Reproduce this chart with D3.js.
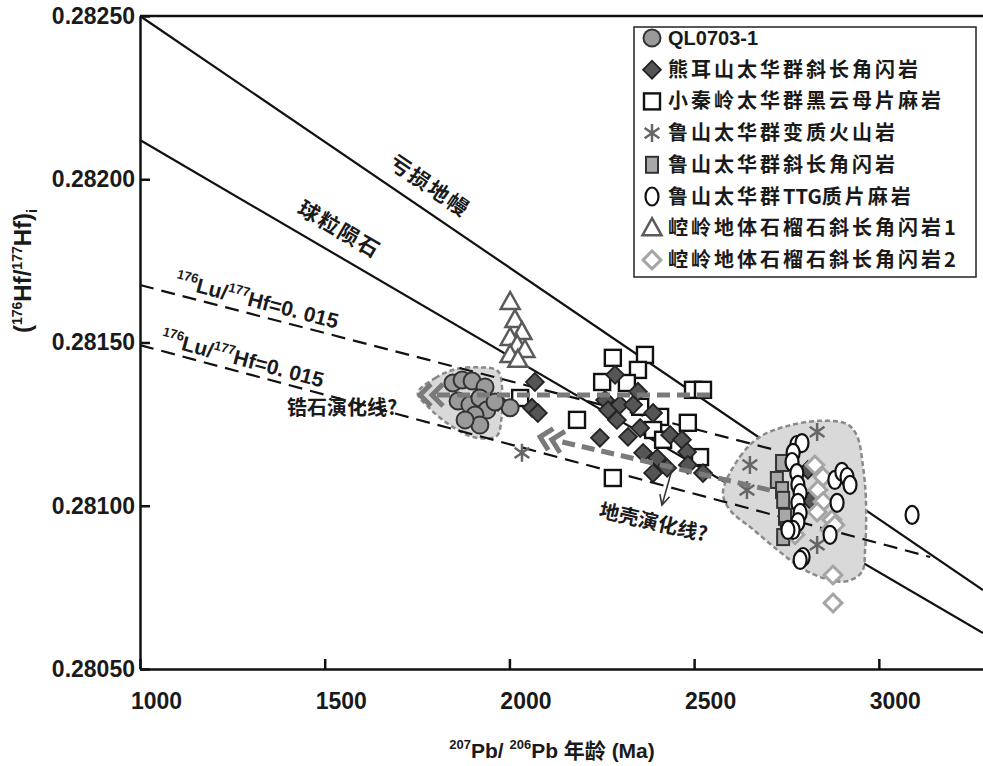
<!DOCTYPE html>
<html>
<head>
<meta charset="utf-8">
<script src="https://cdn.jsdelivr.net/npm/d3@7"></script>
<style>
body { margin: 0; background: #fff; }
text { font-family: "Liberation Sans", Arial, "Noto Sans CJK SC", sans-serif; font-weight: bold; fill: #1a1a1a; }
.cjk { font-family: "Noto Sans CJK SC", sans-serif; }
</style>
</head>
<body>
<svg id="chart" width="983" height="766"></svg>
<script>
// ---- data: [age (Ma), (176Hf/177Hf)i] ----
var qlPoints = [[1847,0.281376],[1872,0.281385],[1899,0.281382],[1934,0.281364],[1861,0.281321],
    [1893,0.281309],[1920,0.281330],[1939,0.281293],[1907,0.281278],[1920,0.281247],[1880,0.281263],
    [2002,0.281300],[1961,0.281318]];
var xiongPoints = [[2069,0.281379],[2061,0.281300],[2077,0.281284],[1969,0.281318],[2245,0.281208],
    [2286,0.281401],[2259,0.281324],[2267,0.281293],[2299,0.281309],[2335,0.281309],[2348,0.281349],
    [2291,0.281263],[2321,0.281211],[2354,0.281238],[2389,0.281284],[2362,0.281162],[2400,0.281146],
    [2389,0.281100],[2427,0.281116],[2435,0.281217],[2467,0.281202],[2481,0.281165],[2483,0.281125],
    [2524,0.281100],[2808,0.281110],[2814,0.281018]];
var xiaoPoints = [[2280,0.281453],[2367,0.281462],[2251,0.281379],[2348,0.281416],[2318,0.281376],
    [2183,0.281263],[2029,0.281330],[2280,0.281085],[2497,0.281355],[2524,0.281355],[2354,0.281303],
    [2408,0.281272],[2389,0.281232],[2416,0.281202],[2483,0.281254],[2516,0.281149]];
var luVolcPoints = [[2034,0.281162],[2651,0.281125],[2643,0.281048],[2833,0.281226],[2833,0.280880]];
var luAmphPoints = [[2724,0.281079],[2738,0.281131],[2738,0.281048],[2741,0.281018],[2746,0.280966],
    [2751,0.280926],[2741,0.280904]];
var luTtgPoints = [[2778,0.281186],[2792,0.281192],[2768,0.281162],[2765,0.281134],[2778,0.281100],
    [2781,0.281064],[2787,0.281039],[2781,0.281009],[2787,0.280978],[2781,0.280950],[2768,0.280926],
    [2754,0.280926],[2881,0.281079],[2900,0.281104],[2914,0.281088],[2922,0.281064],[2887,0.281009],
    [2868,0.280911],[2795,0.280843],[2787,0.280834],[3090,0.280972]];
var kong1Points = [[2002,0.281624],[2015,0.281569],[2034,0.281532],[2002,0.281514],[2021,0.281492],
    [2042,0.281477],[2002,0.281462],[2023,0.281447]];
var kong2Points = [[2827,0.281125],[2849,0.281088],[2835,0.281048],[2849,0.281012],[2833,0.280981],
    [2873,0.280957],[2868,0.280926],[2773,0.280911],[2876,0.280788],[2876,0.280702],[2881,0.280941]];

var legendLabels = ["QL0703-1", "熊耳山太华群斜长角闪岩", "小秦岭太华群黑云母片麻岩", "鲁山太华群变质火山岩",
    "鲁山太华群斜长角闪岩", "鲁山太华群TTG质片麻岩", "崆岭地体石榴石斜长角闪岩1", "崆岭地体石榴石斜长角闪岩2"];
var xTicks = [1000, 1500, 2000, 2500, 3000];
var yTicks = [0.28050, 0.28100, 0.28150, 0.28200, 0.28250];

// reference lines
var dmLine = [[1000,0.28250],[3282,0.280742]];
var churLine = [[1000,0.282120],[3282,0.280610]];
var crustUpper = [[1000,0.281676],[2719,0.281171]];
var crustLower = [[1000,0.281492],[3139,0.280843]];

// shaded fields
var leftField = [[1752,0.281345],[1799,0.281391],[1853,0.281418],[1920,0.281424],[1969,0.281412],
    [1981,0.281339],[1978,0.281263],[1966,0.281214],[1907,0.281209],[1839,0.281247],[1780,0.281303]];
var rightField = [[2578,0.281040],[2624,0.281150],[2678,0.281211],[2751,0.281244],[2841,0.281260],
    [2914,0.281250],[2941,0.281214],[2957,0.281122],[2965,0.281021],[2963,0.280868],[2954,0.280797],
    [2914,0.280769],[2860,0.280775],[2795,0.280806],[2733,0.280858],[2659,0.280928],[2597,0.280987]];

// evolution arrows (tail -> tip)
var zirconArrow = [[2543,0.281339],[1758,0.281339]];
var crustArrow = [[2705,0.281048],[2083,0.281211]];
var pointerArrow = [[2440,0.281110],[2413,0.281002]];

var svg = d3.select("#chart");
var x = d3.scaleLinear().domain([1000, 3282]).range([140, 983]);
var y = d3.scaleLinear().domain([0.28050, 0.28250]).range([669, 16]);
var line = d3.line().x(function (d) { return x(d[0]); }).y(function (d) { return y(d[1]); });

// solid model lines (under the fields)
[dmLine, churLine].forEach(function (seg) {
    svg.append("path").attr("d", line(seg))
        .attr("fill", "none").attr("stroke", "#111").attr("stroke-width", 2.2);
});

// shaded fields
var field = d3.line().x(function (d) { return x(d[0]); }).y(function (d) { return y(d[1]); })
    .curve(d3.curveCatmullRomClosed);
[leftField, rightField].forEach(function (f) {
    svg.append("path").attr("d", field(f))
        .attr("fill", "#d9d9d9").attr("stroke", "#8a8a8a")
        .attr("stroke-width", 2.5).attr("stroke-dasharray", "5,3");
});

// Lu/Hf = 0.015 crustal lines
[crustUpper, crustLower].forEach(function (seg) {
    svg.append("path").attr("d", line(seg))
        .attr("fill", "none").attr("stroke", "#111").attr("stroke-width", 2.2)
        .attr("stroke-dasharray", "14,8");
});

// axes
var xAxis = d3.axisBottom(x).tickValues(xTicks).tickSizeInner(-10).tickSizeOuter(0).tickPadding(24)
    .tickFormat(d3.format("d"));
var gx = svg.append("g").attr("transform", "translate(0,669)").call(xAxis);
gx.selectAll("text").attr("dx", 16).style("font-size", "23px").attr("fill", "#1a1a1a");

var yAxis = d3.axisLeft(y).tickValues(yTicks).tickSizeInner(-10).tickSizeOuter(0).tickPadding(5)
    .tickFormat(d3.format(".5f"));
var gy = svg.append("g").attr("transform", "translate(140,0)").call(yAxis);
gy.selectAll("text").style("font-size", "23px").attr("fill", "#1a1a1a");

[gx, gy].forEach(function (g) {
    g.select(".domain").attr("stroke", "#111").attr("stroke-width", 2.5);
    g.selectAll(".tick line").attr("stroke", "#111").attr("stroke-width", 2.5);
});
svg.append("line").attr("x1", 140).attr("x2", 983).attr("y1", y(0.28250)).attr("y2", y(0.28250))
    .attr("stroke", "#111").attr("stroke-width", 2.5);

// symbols
function asteriskPath(r) {
    var a = r * 0.82, b = r * 0.57;
    return "M0," + (-r) + "L0," + r + "M" + (-a) + "," + (-b) + "L" + a + "," + b +
        "M" + (-a) + "," + b + "L" + a + "," + (-b);
}
function drawSymbol(g, type) {
    switch (type) {
        case "circle":
            g.append("circle").attr("r", 8.5).attr("fill", "#9a9a9a").attr("stroke", "#333").attr("stroke-width", 2);
            break;
        case "diamond":
            g.append("rect").attr("x", -6.3).attr("y", -6.3).attr("width", 12.6).attr("height", 12.6)
                .attr("transform", "rotate(45)").attr("fill", "#555").attr("stroke", "#222").attr("stroke-width", 1.8);
            break;
        case "square":
            g.append("rect").attr("x", -8).attr("y", -8).attr("width", 16).attr("height", 16)
                .attr("fill", "#fff").attr("stroke", "#111").attr("stroke-width", 2.4);
            break;
        case "asterisk":
            g.append("path").attr("d", asteriskPath(9)).attr("fill", "none")
                .attr("stroke", "#666").attr("stroke-width", 2.5);
            break;
        case "grayrect":
            g.append("rect").attr("x", -6).attr("y", -8).attr("width", 12).attr("height", 16)
                .attr("fill", "#a8a8a8").attr("stroke", "#333").attr("stroke-width", 2);
            break;
        case "ellipse":
            g.append("ellipse").attr("rx", 6.5).attr("ry", 9).attr("fill", "#fff")
                .attr("stroke", "#111").attr("stroke-width", 2.2);
            break;
        case "triangle":
            g.append("path").attr("d", "M0,-10L9.5,7L-9.5,7Z").attr("fill", "#fff")
                .attr("stroke", "#5a5a5a").attr("stroke-width", 2.5);
            break;
        case "diamond2":
            g.append("rect").attr("x", -6.3).attr("y", -6.3).attr("width", 12.6).attr("height", 12.6)
                .attr("transform", "rotate(45)").attr("fill", "#fff").attr("stroke", "#a5a5a5").attr("stroke-width", 3);
            break;
    }
}

var series = [
    { data: xiaoPoints, type: "square" },
    { data: xiongPoints, type: "diamond" },
    { data: qlPoints, type: "circle" },
    { data: kong1Points, type: "triangle" },
    { data: luVolcPoints, type: "asterisk" },
    { data: luAmphPoints, type: "grayrect" },
    { data: kong2Points, type: "diamond2" },
    { data: luTtgPoints, type: "ellipse" }
];
series.forEach(function (s) {
    svg.append("g").selectAll("g")
        .data(s.data)
        .enter()
        .append("g")
        .attr("transform", function (d) { return "translate(" + x(d[0]) + "," + y(d[1]) + ")"; })
        .each(function () { drawSymbol(d3.select(this), s.type); });
});

// thick dashed evolution arrows with double chevrons
function evoArrow(seg) {
    var t = [x(seg[0][0]), y(seg[0][1])], h = [x(seg[1][0]), y(seg[1][1])];
    var dx = h[0] - t[0], dy = h[1] - t[1], len = Math.sqrt(dx * dx + dy * dy);
    var u = [dx / len, dy / len], n = [-u[1], u[0]];
    svg.append("line").attr("x1", t[0]).attr("y1", t[1])
        .attr("x2", h[0] - u[0] * 14).attr("y2", h[1] - u[1] * 14)
        .attr("stroke", "#7a7a7a").attr("stroke-width", 5).attr("stroke-dasharray", "13,7");
    [0, 12].forEach(function (off) {
        var tip = [h[0] - u[0] * off, h[1] - u[1] * off];
        var base = [tip[0] - u[0] * 11, tip[1] - u[1] * 11];
        svg.append("path")
            .attr("d", "M" + (base[0] + n[0] * 11) + "," + (base[1] + n[1] * 11) +
                "L" + tip[0] + "," + tip[1] +
                "L" + (base[0] - n[0] * 11) + "," + (base[1] - n[1] * 11))
            .attr("fill", "none").attr("stroke", "#7a7a7a").attr("stroke-width", 5);
    });
}
evoArrow(zirconArrow);
evoArrow(crustArrow);

// thin pointer arrow
(function () {
    var t = [x(pointerArrow[0][0]), y(pointerArrow[0][1])], h = [x(pointerArrow[1][0]), y(pointerArrow[1][1])];
    var dx = h[0] - t[0], dy = h[1] - t[1], len = Math.sqrt(dx * dx + dy * dy);
    var u = [dx / len, dy / len], n = [-u[1], u[0]];
    svg.append("line").attr("x1", t[0]).attr("y1", t[1]).attr("x2", h[0]).attr("y2", h[1])
        .attr("stroke", "#333").attr("stroke-width", 1.6);
    var b = [h[0] - u[0] * 10, h[1] - u[1] * 10];
    svg.append("path")
        .attr("d", "M" + (b[0] + n[0] * 5) + "," + (b[1] + n[1] * 5) + "L" + h[0] + "," + h[1] +
            "L" + (b[0] - n[0] * 5) + "," + (b[1] - n[1] * 5))
        .attr("fill", "none").attr("stroke", "#333").attr("stroke-width", 1.6);
})();

// labels along lines
function lineLabel(seg, age, dyOff, anchor) {
    var p0 = [x(seg[0][0]), y(seg[0][1])], p1 = [x(seg[1][0]), y(seg[1][1])];
    var ang = Math.atan2(p1[1] - p0[1], p1[0] - p0[0]) * 180 / Math.PI;
    var f = (age - seg[0][0]) / (seg[1][0] - seg[0][0]);
    var px = x(age), py = p0[1] + f * (p1[1] - p0[1]);
    return svg.append("text")
        .attr("transform", "translate(" + px + "," + py + ") rotate(" + ang + ")")
        .attr("y", dyOff).attr("text-anchor", anchor);
}
lineLabel(dmLine, 1750, -15, "middle").attr("class", "cjk").style("font-size", "21px")
    .style("letter-spacing", "2px").text("亏损地幔");
lineLabel(churLine, 1508, -16, "middle").attr("class", "cjk").style("font-size", "21px")
    .style("letter-spacing", "2px").text("球粒陨石");

function luHfLabel(t) {
    t.style("font-size", "21px");
    t.append("tspan").attr("dy", -9).style("font-size", "13px").text("176");
    t.append("tspan").attr("dy", 9).text("Lu/");
    t.append("tspan").attr("dy", -9).style("font-size", "13px").text("177");
    t.append("tspan").attr("dy", 9).text("Hf=0. 015");
}
luHfLabel(lineLabel(crustUpper, 1087, -7, "start"));
luHfLabel(lineLabel(crustLower, 1049, -6, "start"));

svg.append("text").attr("class", "cjk").attr("x", x(1398)).attr("y", y(0.281278))
    .style("font-size", "20px").text("锆石演化线?");
svg.append("text").attr("class", "cjk")
    .attr("transform", "translate(" + x(2240) + "," + y(0.280966) + ") rotate(13)")
    .style("font-size", "20px").text("地壳演化线?");

// axis titles
var xt = svg.append("text").attr("x", 552).attr("y", 758).attr("text-anchor", "middle").style("font-size", "21px");
xt.append("tspan").attr("dy", -9).style("font-size", "13px").text("207");
xt.append("tspan").attr("dy", 9).text("Pb/ ");
xt.append("tspan").attr("dy", -9).style("font-size", "13px").text("206");
xt.append("tspan").attr("dy", 9).text("Pb ");
xt.append("tspan").attr("class", "cjk").text("年龄");
xt.append("tspan").text(" (Ma)");

var yt = svg.append("text").attr("transform", "translate(31,333) rotate(-90)").attr("text-anchor", "start")
    .style("font-size", "24px");
yt.append("tspan").text("(");
yt.append("tspan").attr("dy", -9).style("font-size", "14px").text("176");
yt.append("tspan").attr("dy", 9).text("Hf/");
yt.append("tspan").attr("dy", -9).style("font-size", "14px").text("177");
yt.append("tspan").attr("dy", 9).text("Hf)");
yt.append("tspan").attr("dy", 6).style("font-size", "14px").text("i");

// legend
var legendTypes = ["circle", "diamond", "square", "asterisk", "grayrect", "ellipse", "triangle", "diamond2"];
var lg = svg.append("g").attr("transform", "translate(634,27)");
lg.append("rect").attr("width", 342).attr("height", 250).attr("fill", "#fff")
    .attr("stroke", "#222").attr("stroke-width", 1.5);
var rows = lg.selectAll("g.row")
    .data(legendLabels)
    .enter()
    .append("g")
    .attr("class", "row")
    .attr("transform", function (d, i) { return "translate(18," + (11 + i * 31.7) + ")"; });
rows.each(function (d, i) { drawSymbol(d3.select(this), legendTypes[i]); });
rows.append("text")
    .attr("x", 16)
    .attr("y", 7)
    .attr("class", function (d, i) { return i === 0 ? null : "cjk"; })
    .style("font-size", "20px")
    .each(function (d, i) {
        var t = d3.select(this);
        if (i === 0) { t.text(d); return; }
        // CJK characters spaced out, latin runs kept tight
        d.split(/([A-Za-z0-9]+)/).forEach(function (part) {
            if (!part) return;
            var latin = /^[A-Za-z0-9]+$/.test(part);
            t.append("tspan").style("letter-spacing", latin ? "0px" : "3px").text(part);
        });
    });
</script>
</body>
</html>
